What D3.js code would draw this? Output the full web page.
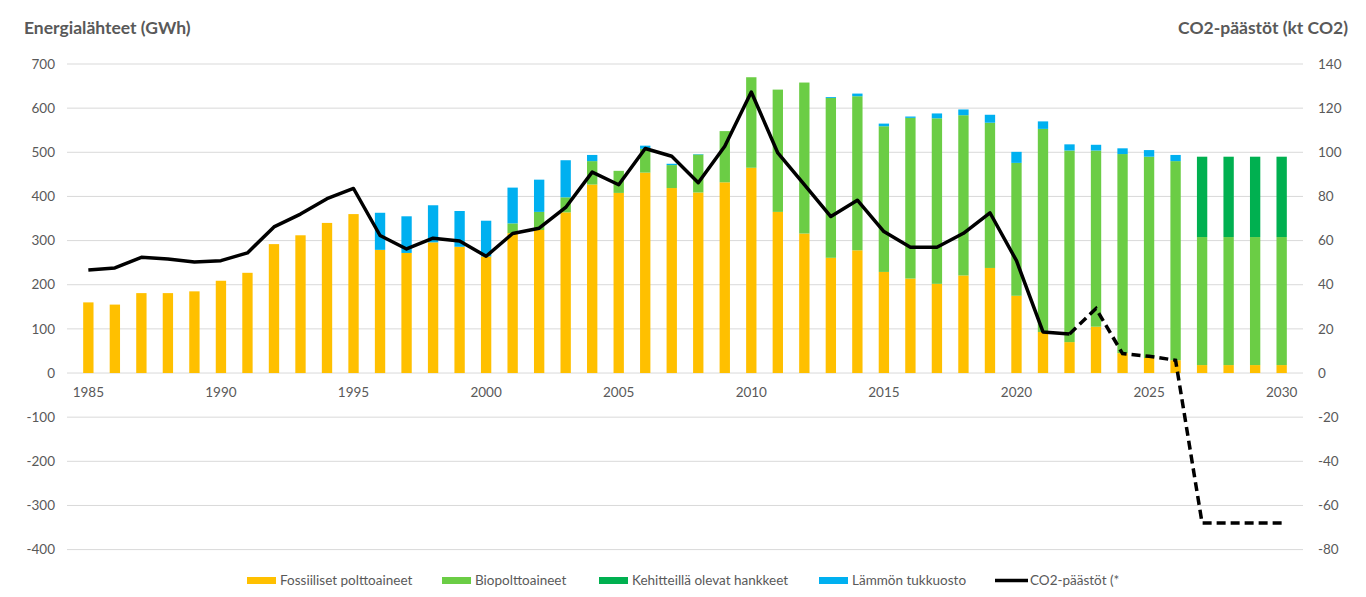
<!DOCTYPE html>
<html>
<head>
<meta charset="utf-8">
<script src="https://cdn.jsdelivr.net/npm/d3@7"></script>
<style>
  body { margin: 0; background: #fff; }
  text { font-family: Lato, "Noto Sans", sans-serif; fill: #595959; }
</style>
</head>
<body>
<svg width="1366" height="597"></svg>
<script>
// vuodet
const years = d3.range(1985, 2031);

// GWh
const fossil = [160, 155, 181, 181, 185, 209, 227, 292, 312, 340, 360, 279, 272, 296, 286, 264,
  317, 324, 364, 427, 408, 454, 419, 409, 432, 465, 365, 316, 261, 278, 229, 214, 202, 221, 238,
  175, 93, 70, 105, 45, 34, 29, 18, 18, 18, 18];
const bio = [0, 0, 0, 0, 0, 0, 0, 0, 0, 0, 0, 0, 0, 0, 0, 0,
  22, 41, 34, 53, 50, 54, 52, 86, 116, 205, 277, 342, 362, 349, 330, 364, 375, 363, 329,
  301, 460, 434, 399, 451, 456, 451, 290, 290, 290, 290];
const dev = [0, 0, 0, 0, 0, 0, 0, 0, 0, 0, 0, 0, 0, 0, 0, 0,
  0, 0, 0, 0, 0, 0, 0, 0, 0, 0, 0, 0, 0, 0, 0, 0, 0, 0, 0,
  0, 0, 0, 0, 0, 0, 0, 182, 182, 182, 182];
const heat = [0, 0, 0, 0, 0, 0, 0, 0, 0, 0, 0, 84, 83, 84, 81, 81,
  81, 73, 84, 14, 0, 7, 3, 1, 0, 0, 0, 0, 2, 6, 6, 3, 11, 13, 18,
  25, 17, 14, 13, 13, 15, 14, 0, 0, 0, 0];

// kt CO2
const co2 = [46.7, 47.6, 52.4, 51.7, 50.3, 50.9, 54.4, 66.2, 72, 79, 83.6, 62.3, 56.2, 61.1, 59.8, 52.9,
  63.2, 65.6, 75, 91, 85.3, 101.7, 98.2, 86.2, 102.7, 127.3, 99.7, 85.3, 70.9, 78.3, 64.1, 57, 57, 63.3, 72.6,
  50.9, 18.6, 17.7, 29.2, 8.8, 7.6, 5.8, -68, -68, -68, -68];
const lastActual = 2022; // tästä eteenpäin katkoviiva

const leftTicks = d3.range(-400, 701, 100);
const rightTicks = d3.range(-80, 141, 20);
const xLabels = [1985, 1990, 1995, 2000, 2005, 2010, 2015, 2020, 2025, 2030];

const seriesKeys = ["fossil", "bio", "dev", "heat"];
const seriesNames = ["Fossiiliset polttoaineet", "Biopolttoaineet", "Kehitteillä olevat hankkeet", "Lämmön tukkuosto"];
const colors = ["#FFC000", "#6BCD45", "#00B050", "#00B0F0"];

const svg = d3.select("svg");

const plotL = 67, plotR = 1303, plotT = 64, plotB = 549.6;

const x = d3.scaleBand().domain(years).range([plotL, plotR]).padding(0.61);
const y = d3.scaleLinear().domain([-400, 700]).range([plotB, plotT]);
const y2 = d3.scaleLinear().domain([-80, 140]).range([plotB, plotT]);

//ruudukko
svg.append("g")
  .selectAll("line")
  .data(leftTicks)
  .join("line")
  .attr("x1", plotL).attr("x2", plotR)
  .attr("y1", d => y(d)).attr("y2", d => y(d))
  .attr("stroke", "#d9d9d9")
  .attr("stroke-width", 1);

// akseleiden tekstit
svg.append("g")
  .selectAll("text")
  .data(leftTicks)
  .join("text")
  .attr("x", 55).attr("y", d => y(d))
  .attr("dy", "0.35em")
  .attr("text-anchor", "end")
  .attr("font-size", 13.5)
  .text(d => d);

svg.append("g")
  .selectAll("text")
  .data(rightTicks)
  .join("text")
  .attr("x", 1318).attr("y", d => y2(d))
  .attr("dy", "0.35em")
  .attr("font-size", 13.5)
  .text(d => d);

svg.append("g")
  .selectAll("text")
  .data(xLabels)
  .join("text")
  .attr("x", d => x(d) + x.bandwidth() / 2)
  .attr("y", y(0) + 19)
  .attr("dy", "0.35em")
  .attr("text-anchor", "middle")
  .attr("font-size", 13.5)
  .text(d => d);

svg.append("text")
  .attr("x", 24).attr("y", 34)
  .attr("font-size", 17.5).attr("font-weight", "bold")
  .text("Energialähteet (GWh)");

svg.append("text")
  .attr("x", 1348).attr("y", 34)
  .attr("text-anchor", "end")
  .attr("font-size", 17.5).attr("font-weight", "bold")
  .text("CO2-päästöt (kt CO2)");

// pinotut pylväät
const rows = years.map((yr, i) => ({ year: yr, fossil: fossil[i], bio: bio[i], dev: dev[i], heat: heat[i] }));
const stacked = d3.stack().keys(seriesKeys)(rows);

svg.append("g")
  .selectAll("g")
  .data(stacked)
  .join("g")
  .attr("fill", (d, i) => colors[i])
  .selectAll("rect")
  .data(d => d)
  .join("rect")
  .attr("x", d => x(d.data.year))
  .attr("width", x.bandwidth())
  .attr("y", d => y(d[1]))
  .attr("height", d => y(d[0]) - y(d[1]));

// CO2 viiva
const pts = years.map((yr, i) => ({ year: yr, v: co2[i] }));
const line = d3.line()
  .x(d => x(d.year) + x.bandwidth() / 2)
  .y(d => y2(d.v));

svg.append("path")
  .attr("d", line(pts.filter(d => d.year <= lastActual)))
  .attr("fill", "none")
  .attr("stroke", "#000")
  .attr("stroke-width", 3.5)
  .attr("stroke-linejoin", "round");

svg.append("path")
  .attr("d", line(pts.filter(d => d.year >= lastActual)))
  .attr("fill", "none")
  .attr("stroke", "#000")
  .attr("stroke-width", 3.5)
  .attr("stroke-dasharray", "9,5");

// selite
const legendX = [247, 442, 599, 819];
const lg = svg.append("g");
seriesNames.forEach((name, i) => {
  lg.append("rect")
    .attr("x", legendX[i]).attr("y", 577)
    .attr("width", 29).attr("height", 7)
    .attr("fill", colors[i]);
  lg.append("text")
    .attr("x", legendX[i] + 33).attr("y", 580.5)
    .attr("dy", "0.35em")
    .attr("font-size", 13.5)
    .text(name);
});
lg.append("line")
  .attr("x1", 995).attr("x2", 1028)
  .attr("y1", 580.5).attr("y2", 580.5)
  .attr("stroke", "#000").attr("stroke-width", 3.5);
lg.append("text")
  .attr("x", 1030).attr("y", 580.5)
  .attr("dy", "0.35em")
  .attr("font-size", 13.5)
  .text("CO2-päästöt (*");
</script>
</body>
</html>
